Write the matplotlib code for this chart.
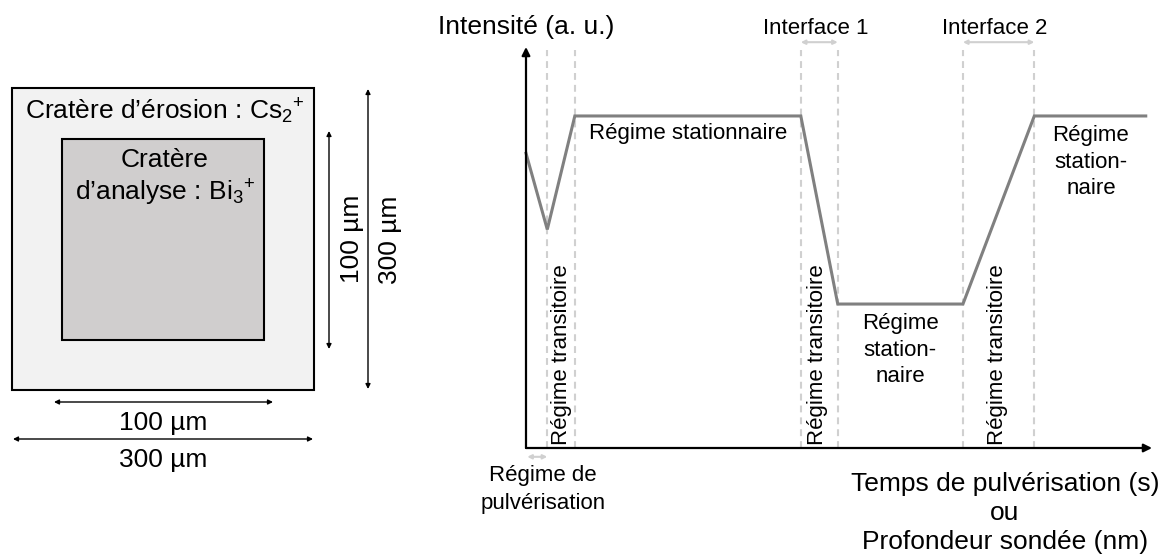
import matplotlib
matplotlib.use("Agg")
import matplotlib.pyplot as plt
from matplotlib.patches import Rectangle

plt.rcParams['font.family'] = ['Liberation Sans', 'DejaVu Sans']
plt.rcParams['mathtext.fontset'] = 'custom'
plt.rcParams['mathtext.rm'] = 'Liberation Sans'
plt.rcParams['mathtext.it'] = 'Liberation Sans:italic'
plt.rcParams['mathtext.bf'] = 'Liberation Sans:bold'

# ---- data (arbitrary units) ----
time = [0.0, 3.4, 7.8, 43.9, 49.8, 69.8, 81.2, 99.0]
intensity = [73.5, 54.5, 82.8, 82.8, 35.9, 35.9, 82.8, 82.8]
boundaries = [3.4, 7.8, 43.9, 49.8, 69.8, 81.2]
interface_labels = ['Interface 1', 'Interface 2']
dim_labels = ['100 µm', '300 µm']

LARGE = 19
SMALL = 16
CURVE = '#808080'
LIGHT = '#d0d0d0'

fig = plt.figure(figsize=(11.62, 5.56), dpi=100)

# overlay in pixel coordinates for the schematic and labels
ov = fig.add_axes([0, 0, 1, 1])
ov.set_xlim(0, 1162)
ov.set_ylim(556, 0)
ov.axis('off')

# ---- left panel: craters ----
ov.add_patch(Rectangle((12, 88), 302, 302, facecolor='#f2f2f2', edgecolor='black', lw=1.5))
ov.add_patch(Rectangle((62, 139), 202, 201, facecolor='#d0cece', edgecolor='black', lw=1.5))
ov.text(165, 111, r"Cratère d’érosion : Cs$_{2}{}^{+}$", ha='center', va='center', fontsize=LARGE)
ov.text(165, 160, "Cratère", ha='center', va='center', fontsize=LARGE)
ov.text(165, 193, r"d’analyse : Bi$_{3}{}^{+}$", ha='center', va='center', fontsize=LARGE)

arr = dict(arrowstyle='<|-|>', color='black', lw=1.0, mutation_scale=7, shrinkA=0, shrinkB=0)
ov.annotate('', xy=(329, 131), xytext=(329, 349), arrowprops=arr)
ov.annotate('', xy=(368, 89), xytext=(368, 389), arrowprops=arr)
ov.annotate('', xy=(54, 402), xytext=(273, 402), arrowprops=arr)
ov.annotate('', xy=(13, 439), xytext=(313, 439), arrowprops=arr)
ov.text(352, 239, dim_labels[0], rotation=90, ha='center', va='center', fontsize=LARGE)
ov.text(390, 240, dim_labels[1], rotation=90, ha='center', va='center', fontsize=LARGE)
ov.text(163, 423, dim_labels[0], ha='center', va='center', fontsize=LARGE)
ov.text(163, 460, dim_labels[1], ha='center', va='center', fontsize=LARGE)

# ---- right panel: depth profile ----
ax = fig.add_axes([526 / 1162, (556 - 448) / 556, 626 / 1162, 401 / 556])
ax.set_xlim(0, 100)
ax.set_ylim(0, 100)
for s in ax.spines.values():
    s.set_visible(False)
ax.set_xticks([])
ax.set_yticks([])
ax.patch.set_alpha(0)

ax.annotate('', xy=(0, 1), xytext=(0, 0), xycoords='axes fraction',
            arrowprops=dict(arrowstyle='-|>', color='black', lw=1.6, mutation_scale=12, shrinkA=0, shrinkB=0))
ax.annotate('', xy=(1, 0), xytext=(0, 0), xycoords='axes fraction',
            arrowprops=dict(arrowstyle='-|>', color='black', lw=1.6, mutation_scale=12, shrinkA=0, shrinkB=0))

ax.vlines(boundaries, 0, 99.3, colors=LIGHT, linewidth=1.5, linestyles=(0, (3.3, 2.4)))
ax.plot(time, intensity, color=CURVE, lw=2.2, solid_joinstyle='miter', clip_on=False)

garr = dict(arrowstyle='<|-|>', color=LIGHT, lw=1.5, mutation_scale=6, shrinkA=0, shrinkB=0)
ax.annotate('', xy=(boundaries[2], 101.2), xytext=(boundaries[3], 101.2), arrowprops=garr, annotation_clip=False)
ax.annotate('', xy=(boundaries[4], 101.2), xytext=(boundaries[5], 101.2), arrowprops=garr, annotation_clip=False)
ax.annotate('', xy=(0.2, -2.2), xytext=(boundaries[0], -2.2), arrowprops=garr, annotation_clip=False)

# labels (pixel overlay)
ov2 = fig.add_axes([0, 0, 1, 1], zorder=5)
ov2.set_xlim(0, 1162)
ov2.set_ylim(556, 0)
ov2.axis('off')
ov2.text(526, 27, "Intensité (a. u.)", ha='center', va='center', fontsize=LARGE)
ov2.text(816, 29, interface_labels[0], ha='center', va='center', fontsize=SMALL)
ov2.text(995, 29, interface_labels[1], ha='center', va='center', fontsize=SMALL)
ov2.text(688, 134, "Régime stationnaire", ha='center', va='center', fontsize=SMALL)
for y, t in zip([323, 350, 377], ["Régime", "station-", "naire"]):
    ov2.text(900, y, t, ha='center', va='center', fontsize=SMALL)
for y, t in zip([135, 162, 188], ["Régime", "station-", "naire"]):
    ov2.text(1091, y, t, ha='center', va='center', fontsize=SMALL)
for x in [561, 818, 997]:
    ov2.text(x, 445, "Régime transitoire", rotation=90, ha='center', va='bottom', fontsize=SMALL)
ov2.text(543, 476, "Régime de", ha='center', va='center', fontsize=SMALL)
ov2.text(543, 504, "pulvérisation", ha='center', va='center', fontsize=SMALL)
ov2.text(1005, 484, "Temps de pulvérisation (s)", ha='center', va='center', fontsize=LARGE)
ov2.text(1005, 513, "ou", ha='center', va='center', fontsize=LARGE)
ov2.text(1005, 542, "Profondeur sondée (nm)", ha='center', va='center', fontsize=LARGE)

fig.savefig('out.png', dpi=100)
